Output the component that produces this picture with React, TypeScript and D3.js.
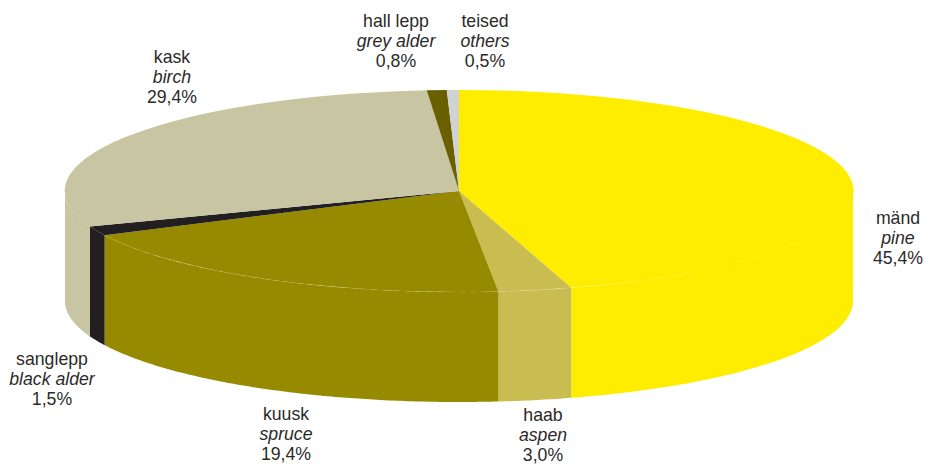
import React from 'react';
import * as d3 from 'd3';

const width = 926;
const height = 465;

const names = ['mänd', 'haab', 'kuusk', 'sanglepp', 'kask', 'hall lepp', 'teised'];
const englishNames = ['pine', 'aspen', 'spruce', 'black alder', 'birch', 'grey alder', 'others'];
const shares = [45.4, 3.0, 19.4, 1.5, 29.4, 0.8, 0.5];
const colors = ['#FFED00', '#C9BC50', '#968A00', '#231F20', '#C8C5A2', '#6B6000', '#D0D2D3'];
const labelX = [898, 543, 286, 52, 172, 396, 485];
const labelY = [224, 421, 420, 365, 63, 27, 27];

const cx = 459;
const cy = 191;
const rx = 394;
const ry = 101;
const depth = 110;
// the rim line only shows on the last bit of the yellow slice
const rimStart = 2.6;

const slices = d3.pie<number>().sort(null).value((d) => d)(shares);
const unitArc = d3.arc<d3.PieArcDatum<number>>().innerRadius(0).outerRadius(1);

const ellipseX = (a: number) => cx + rx * Math.sin(a);
const ellipseY = (a: number) => cy - ry * Math.cos(a);

// only the part of a slice on the front half of the ellipse has a visible wall
const wallPath = (start: number, end: number) => {
  const a0 = Math.max(start, Math.PI / 2);
  const a1 = Math.min(end, (3 * Math.PI) / 2);
  if (a1 <= a0) return null;
  const angles = d3.range(a0, a1, 0.01).concat(a1);
  const area = d3
    .area<number>()
    .x((a) => ellipseX(a))
    .y0((a) => ellipseY(a))
    .y1((a) => ellipseY(a) + depth);
  return area(angles);
};

const rimPath = (start: number, end: number) => {
  const angles = d3.range(start, end, 0.01).concat(end);
  return d3
    .line<number>()
    .x((a) => ellipseX(a))
    .y((a) => ellipseY(a))(angles);
};

export default function App() {
  return (
    <svg
      width={width}
      height={height}
      style={{ position: 'absolute', left: 0, top: 0, display: 'block', background: '#fff' }}
      fontFamily="'Liberation Sans', Arial, sans-serif"
      fontSize={17.7}
      fill="#2b2a29"
    >
      {slices.map((s, i) => {
        const d = wallPath(s.startAngle, s.endAngle);
        return d ? <path key={i} d={d} fill={colors[i]} /> : null;
      })}
      {slices.map((s, i) => (
        <path
          key={i}
          d={unitArc(s) ?? undefined}
          transform={`translate(${cx},${cy}) scale(${rx},${ry})`}
          fill={colors[i]}
        />
      ))}
      {/* faint lines between top and wall */}
      {slices.slice(0, 3).map((s, i) => (
        <path
          key={i}
          d={rimPath(Math.max(s.startAngle, rimStart), s.endAngle) ?? undefined}
          fill="none"
          stroke="#fff"
          strokeOpacity={0.18}
          strokeWidth={0.7}
          strokeDasharray="6 5"
        />
      ))}
      {names.map((name, i) => (
        <text key={name} x={labelX[i]} y={labelY[i]} textAnchor="middle">
          <tspan x={labelX[i]}>{name}</tspan>
          <tspan x={labelX[i]} dy={20} fontStyle="italic">
            {englishNames[i]}
          </tspan>
          <tspan x={labelX[i]} dy={20}>
            {shares[i].toFixed(1).replace('.', ',')}%
          </tspan>
        </text>
      ))}
    </svg>
  );
}
